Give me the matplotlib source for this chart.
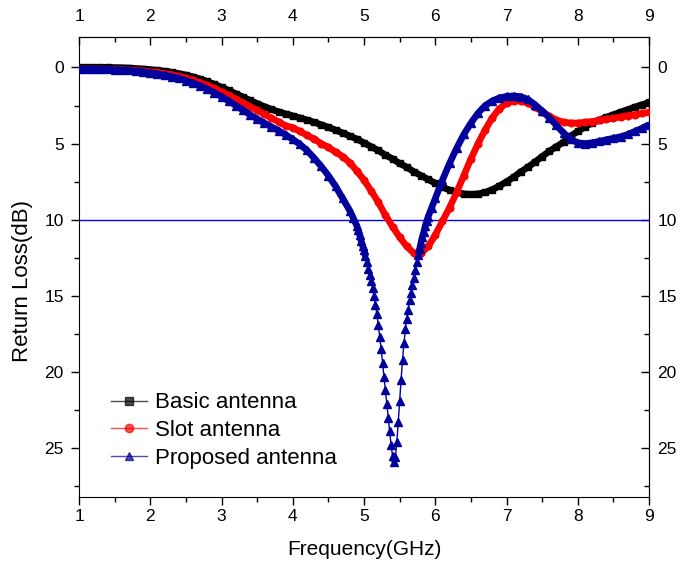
import numpy as np
import matplotlib
matplotlib.use("Agg")
import matplotlib.pyplot as plt
from matplotlib.lines import Line2D

plt.rcParams['font.family'] = ['Liberation Sans', 'DejaVu Sans']

# frequency (GHz) and return loss (dB)
f_basic = [1.0, 1.1, 1.2, 1.3, 1.4, 1.5, 1.6, 1.7, 1.8, 1.9,
           2.0, 2.1, 2.2, 2.3, 2.4, 2.5, 2.6, 2.7, 2.8, 2.9,
           3.0, 3.1, 3.2, 3.3, 3.4, 3.5, 3.6, 3.7, 3.8, 3.9,
           4.0, 4.1, 4.2, 4.3, 4.4, 4.5, 4.6, 4.7, 4.8, 4.9,
           5.0, 5.1, 5.2, 5.3, 5.4, 5.5, 5.6, 5.7, 5.8, 5.9,
           6.0, 6.1, 6.2, 6.3, 6.4, 6.5, 6.6, 6.7, 6.8, 6.9,
           7.0, 7.1, 7.2, 7.3, 7.4, 7.5, 7.6, 7.7, 7.8, 7.9,
           8.0, 8.1, 8.2, 8.3, 8.4, 8.5, 8.6, 8.7, 8.8, 8.9, 9.0]
rl_basic = [0.0, 0.0, 0.0, 0.0, 0.0, 0.01, 0.02, 0.04, 0.07, 0.10,
            0.14, 0.19, 0.25, 0.32, 0.40, 0.50, 0.62, 0.76, 0.92, 1.10,
            1.30, 1.50, 1.72, 1.94, 2.16, 2.37, 2.57, 2.75, 2.91, 3.05,
            3.18, 3.31, 3.45, 3.60, 3.76, 3.93, 4.11, 4.30, 4.50, 4.70,
            4.95, 5.20, 5.45, 5.75, 6.00, 6.30, 6.55, 6.85, 7.10, 7.35,
            7.60, 7.85, 8.05, 8.20, 8.30, 8.33, 8.30, 8.20, 8.02, 7.78,
            7.50, 7.20, 6.85, 6.55, 6.20, 5.85, 5.50, 5.20, 4.90, 4.50,
            4.20, 3.90, 3.65, 3.45, 3.27, 3.10, 2.93, 2.77, 2.60, 2.45, 2.30]

f_slot = [1.0, 1.1, 1.2, 1.3, 1.4, 1.5, 1.6, 1.7, 1.8, 1.9,
          2.0, 2.1, 2.2, 2.3, 2.4, 2.5, 2.6, 2.7, 2.8, 2.9,
          3.0, 3.1, 3.2, 3.3, 3.4, 3.5, 3.6, 3.7, 3.8, 3.9,
          4.0, 4.1, 4.2, 4.3, 4.4, 4.5, 4.6, 4.7, 4.8, 4.9,
          5.0, 5.1, 5.2, 5.3, 5.4, 5.5, 5.6, 5.7, 5.75, 5.8, 5.9,
          6.0, 6.1, 6.2, 6.3, 6.4, 6.5, 6.6, 6.7, 6.8, 6.9,
          7.0, 7.1, 7.2, 7.3, 7.4, 7.5, 7.6, 7.7, 7.8, 7.9,
          8.0, 8.1, 8.2, 8.3, 8.4, 8.5, 8.6, 8.7, 8.8, 8.9, 9.0]
rl_slot = [0.10, 0.10, 0.10, 0.11, 0.12, 0.13, 0.15, 0.17, 0.20, 0.24,
           0.28, 0.33, 0.40, 0.48, 0.58, 0.70, 0.84, 1.00, 1.18, 1.38,
           1.60, 1.83, 2.07, 2.32, 2.57, 2.82, 3.07, 3.32, 3.57, 3.83,
           3.95, 4.20, 4.45, 4.70, 5.00, 5.25, 5.55, 5.85, 6.25, 6.80,
           7.40, 8.10, 8.85, 9.70, 10.45, 11.15, 11.75, 12.20, 12.30, 12.20, 11.75,
           11.00, 10.10, 9.20, 8.20, 7.10, 6.00, 5.00, 4.10, 3.30, 2.70,
           2.35, 2.20, 2.20, 2.35, 2.60, 2.90, 3.20, 3.45, 3.60, 3.65,
           3.65, 3.60, 3.55, 3.48, 3.40, 3.33, 3.25, 3.17, 3.10, 3.02, 2.95]

# finer readings through the notch of the proposed antenna
f_prop = [1.0, 1.1, 1.2, 1.3, 1.4, 1.5, 1.6, 1.7, 1.8, 1.9,
          2.0, 2.1, 2.2, 2.3, 2.4, 2.5, 2.6, 2.7, 2.8, 2.9,
          3.0, 3.1, 3.2, 3.3, 3.4, 3.5, 3.6, 3.7, 3.8, 3.9,
          4.0, 4.1, 4.2, 4.3, 4.4, 4.5, 4.6, 4.7, 4.8, 4.85, 4.9,
          4.92, 4.94, 4.96, 4.98, 5.00, 5.02, 5.04, 5.06, 5.08, 5.10,
          5.12, 5.14, 5.16, 5.18, 5.20, 5.22, 5.24, 5.26, 5.28, 5.30,
          5.32, 5.34, 5.36, 5.38, 5.40, 5.42, 5.44, 5.46, 5.48, 5.50,
          5.52, 5.54, 5.56, 5.58, 5.60, 5.62, 5.64, 5.66, 5.68, 5.70,
          5.72, 5.74, 5.76, 5.78, 5.80, 5.82, 5.84, 5.86, 5.88, 5.90,
          5.95, 6.0, 6.1, 6.2, 6.3, 6.4, 6.5, 6.6, 6.7, 6.8, 6.9,
          7.0, 7.1, 7.2, 7.3, 7.4, 7.5, 7.6, 7.7, 7.8, 7.9,
          8.0, 8.1, 8.2, 8.3, 8.4, 8.5, 8.6, 8.7, 8.8, 8.9, 9.0]
rl_prop = [0.10, 0.10, 0.11, 0.12, 0.13, 0.15, 0.17, 0.20, 0.24, 0.29,
           0.35, 0.42, 0.50, 0.60, 0.72, 0.86, 1.02, 1.20, 1.42, 1.66,
           1.92, 2.20, 2.50, 2.80, 3.10, 3.38, 3.65, 3.90, 4.15, 4.42,
           4.72, 5.05, 5.45, 5.95, 6.50, 7.10, 7.80, 8.60, 9.40, 9.90, 10.40,
           10.70, 11.00, 11.40, 11.70, 12.00, 12.40, 12.80, 13.20, 13.60, 14.00,
           14.50, 15.00, 15.60, 16.20, 16.90, 17.70, 18.50, 19.40, 20.30, 21.20,
           22.10, 23.00, 23.90, 24.80, 25.50, 25.90, 25.60, 24.60, 23.30, 21.90,
           20.50, 19.20, 18.10, 17.20, 16.50, 15.90, 15.30, 14.80, 14.30, 13.80,
           13.30, 12.80, 12.30, 11.90, 11.50, 11.10, 10.80, 10.40, 10.10, 9.80,
           9.20, 8.60, 7.40, 6.30, 5.30, 4.40, 3.65, 3.00, 2.50, 2.20, 2.00,
           1.90, 1.87, 1.92, 2.10, 2.45, 2.85, 3.30, 3.80, 4.30, 4.70,
           4.95, 5.00, 4.95, 4.85, 4.75, 4.65, 4.55, 4.40, 4.20, 4.00, 3.75]

ref_level = 10
x_ticks = [1, 2, 3, 4, 5, 6, 7, 8, 9]
y_ticks = [0, 5, 10, 15, 20, 25]

fig = plt.figure(figsize=(6.89, 5.62), dpi=100)
ax = fig.add_axes([0.1147, 0.1157, 0.8273, 0.8185])

series = [
    (f_basic, rl_basic, 'black', 's', 4.2, 'Basic antenna'),
    (f_slot, rl_slot, 'red', 'o', 4.8, 'Slot antenna'),
    (f_prop, rl_prop, '#00009c', '^', 5.5, 'Proposed antenna'),
]
handles = []
for i, (f, rl, c, m, ms, lab) in enumerate(series):
    rl = np.asarray(rl, dtype=float)
    # the dense markers merge into a thick band, except in the steep notch
    band = np.where(rl > 12.5, np.nan, rl) if m == '^' else rl
    ax.plot(f, band, color=c, lw=4.8, solid_capstyle='butt', solid_joinstyle='round', zorder=2 + i)
    ax.plot(f, rl, color=c, lw=1, marker=m, ms=ms, mec=c, mfc=c, zorder=2 + i)
    handles.append(Line2D([], [], color=c, lw=1, alpha=0.7, marker=m, ms=6, mfc=c, mec=c))

ax.axhline(ref_level, color='#0000ff', lw=1, zorder=1)

ax.set_xlim(1, 9)
ax.set_ylim(28.2, -2)
ax.set_xticks(x_ticks)
ax.set_yticks(y_ticks)
ax.set_xticks(np.arange(1.5, 9, 1), minor=True)
ax.set_yticks(np.arange(2.5, 28, 5), minor=True)
ax.tick_params(which='major', direction='out', length=6, width=1, labelsize=12.5, pad=3)
ax.tick_params(axis='y', which='major', pad=5)
ax.tick_params(which='minor', direction='out', length=3.5, width=1)

top = ax.secondary_xaxis('top')
top.set_xticks(x_ticks)
top.set_xticks(np.arange(1.5, 9, 1), minor=True)
top.tick_params(which='major', direction='in', length=6, width=1, labelsize=12.5, pad=9)
top.tick_params(which='minor', direction='in', length=3.5, width=1)

right = ax.secondary_yaxis('right')
right.set_yticks(y_ticks)
right.set_yticks(np.arange(2.5, 28, 5), minor=True)
right.tick_params(which='major', direction='in', length=6, width=1, labelsize=12.5, pad=6)
right.tick_params(which='minor', direction='in', length=3.5, width=1)

ax.set_xlabel('Frequency(GHz)', fontsize=15, labelpad=11)
ax.set_ylabel('Return Loss(dB)', fontsize=16)
ax.yaxis.set_label_coords(-0.081, 0.47)

ax.legend(handles, [s[5] for s in series], loc='lower left', bbox_to_anchor=(0.04, 0.042),
          frameon=False, fontsize=16, handlelength=1.65, handletextpad=0.35,
          labelspacing=0.3, borderaxespad=0)

fig.savefig('out.png', dpi=100)
